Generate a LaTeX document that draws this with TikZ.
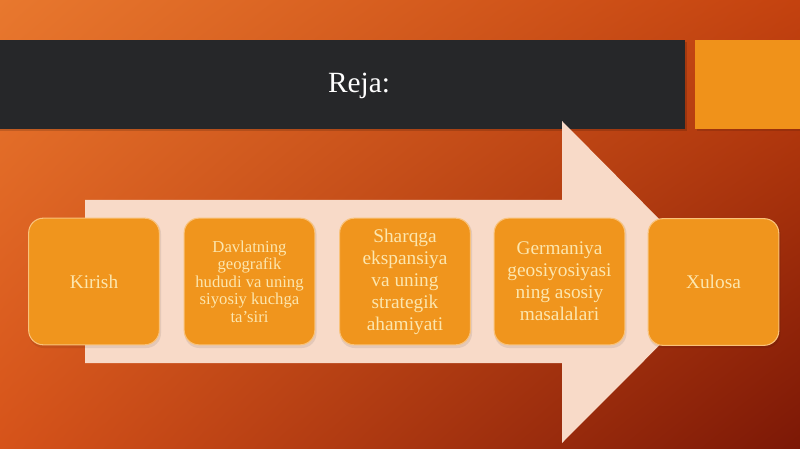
\documentclass[tikz,border=0pt]{standalone}
\usepackage{fontspec}
\setmainfont{Liberation Serif}
\usetikzlibrary{shadings}
\definecolor{bgTL}{HTML}{E8782E}
\definecolor{bgTR}{HTML}{C4420F}
\definecolor{bgBL}{HTML}{D6531A}
\definecolor{bgBR}{HTML}{7C1806}
\definecolor{barDark}{HTML}{262729}
\definecolor{sqOrange}{HTML}{F0921A}
\definecolor{arrowFill}{HTML}{F8DAC8}
\definecolor{boxFill}{HTML}{F0951D}
\definecolor{boxLine}{HTML}{F9C27A}
\definecolor{boxText}{HTML}{FCE6AE}
\tikzset{
  stepbox/.style={draw=boxLine, line width=0.8pt, fill=boxFill, rounded corners=11pt,
    minimum width=98pt, minimum height=95pt, inner sep=2pt, align=center,
    text=boxText, font=\fontsize{14.5}{16.5}\selectfont},
  smallbox/.style={stepbox, font=\fontsize{12.5}{13.2}\selectfont},
  boxshadow/.style={fill=black, opacity=0.08, rounded corners=11pt}
}
\begin{document}
\begin{tikzpicture}[x=0.75pt,y=-0.75pt]
\useasboundingbox (0,0) rectangle (800,449);
% background
\shade[upper left=bgTL, upper right=bgTR, lower left=bgBL, lower right=bgBR] (0,0) rectangle (800,449);
% title bar shadow and bar
\fill[black, opacity=0.15] (0,42) rectangle (687,131);
\fill[barDark] (0,40) rectangle (685,129);
\node[text=white, font=\fontsize{22}{24}\selectfont] (title) at (359,86) {Reja:};
% orange square
\fill[black, opacity=0.12] (697,42) rectangle (800,131);
\fill[sqOrange] (695,40) rectangle (800,129);
% big arrow
\fill[arrowFill] (85,200) -- (562,200) -- (562,121) -- (722,282.5) -- (562,443) -- (562,363) -- (85,363) -- cycle;
% boxes
\foreach \cx in {94,249.5,405,559.5,713.5}{
  \fill[boxshadow] (\cx-65,219) rectangle (\cx+67,348);
}
\node[stepbox] (b1) at (94,281.5) {Kirish};
\node[smallbox] (b2) at (249.5,281.5) {Davlatning\\geografik\\hududi va uning\\siyosiy kuchga\\ta'siri};
\node[stepbox] (b3) at (405,281.5) {Sharqga\\ekspansiya\\va uning\\strategik\\ahamiyati};
\node[stepbox] (b4) at (559.5,281.5) {Germaniya\\geosiyosiyasi\\ning asosiy\\masalalari};
\node[stepbox] (b5) at (713.5,282) {Xulosa};
\end{tikzpicture}
\end{document}
